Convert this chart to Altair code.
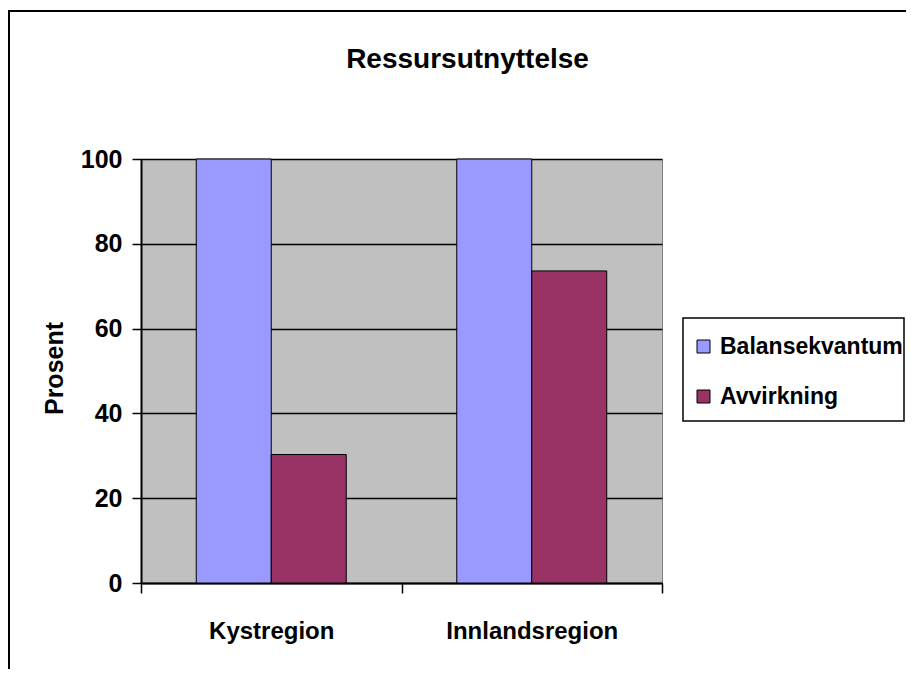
import altair as alt
import pandas as pd

categories = ["Kystregion", "Innlandsregion"]
series = ["Balansekvantum", "Avvirkning"]
balanse = [100, 100]
avvirkning = [30.3, 73.6]
y_ticks = [0, 20, 40, 60, 80, 100]
colors = ["#9999FF", "#993366"]

rows = []
for i, c in enumerate(categories):
    rows.append({"region": c, "serie": series[0], "prosent": balanse[i]})
    rows.append({"region": c, "serie": series[1], "prosent": avvirkning[i]})
df = pd.DataFrame(rows)

FONT = "Liberation Sans"

bars = alt.Chart(df).mark_bar(stroke="black", strokeWidth=1).encode(
    x=alt.X(
        "region:N", sort=categories,
        scale=alt.Scale(paddingInner=0, paddingOuter=0),
        axis=alt.Axis(
            title=None, labelAngle=0, tickBand="extent", ticks=True, tickSize=10,
            tickColor="black", tickWidth=1.5, domainColor="black", domainWidth=2,
            labelFontSize=24, labelFont=FONT, labelFontWeight="bold", labelColor="black",
            labelPadding=26, grid=False,
        ),
    ),
    xOffset=alt.XOffset("serie:N", sort=series,
                        scale=alt.Scale(paddingOuter=0.737, paddingInner=0)),
    y=alt.Y(
        "prosent:Q",
        scale=alt.Scale(domain=[0, 100], nice=False),
        axis=alt.Axis(
            values=y_ticks, title="Prosent", titleFont=FONT, titleFontSize=25,
            titleFontWeight="bold", titleColor="black", titleAngle=270,
            titleX=-79, titleY=209, titleAlign="center", titleBaseline="alphabetic",
            labelFont=FONT, labelFontSize=25, labelFontWeight="bold", labelColor="black",
            labelPadding=10, tickSize=9, tickColor="black", tickWidth=1.5,
            domainColor="black", domainWidth=2, gridColor="black", gridWidth=1.5,
            grid=True,
        ),
    ),
    color=alt.Color(
        "serie:N", sort=series,
        scale=alt.Scale(domain=series, range=colors),
        legend=alt.Legend(
            title=None, orient="none", legendX=542, legendY=167, direction="vertical",
            symbolType="square", symbolSize=169, symbolStrokeColor="black",
            symbolStrokeWidth=1, symbolOpacity=1, labelFont=FONT, labelFontSize=23,
            labelFontWeight="bold", labelColor="black", labelOffset=5, rowPadding=26,
            padding=9, labelLimit=400,
        ),
    ),
)

frame = alt.Chart(alt.Data(values=[{}])).mark_rect(
    fillOpacity=0, stroke="black", strokeWidth=2, clip=False
).encode(
    x=alt.value(-132), x2=alt.value(900), y=alt.value(-148), y2=alt.value(700)
)

legend_box = alt.Chart(alt.Data(values=[{}])).mark_rect(
    fill="white", stroke="black", strokeWidth=1.5, clip=False
).encode(
    x=alt.value(542), x2=alt.value(763), y=alt.value(159), y2=alt.value(262)
)

chart = alt.layer(frame, legend_box, bars).properties(
    width=521,
    height=424,
    title=alt.Title("Ressursutnyttelse", font=FONT, fontSize=28, fontWeight="bold",
                    color="black", dx=66, offset=-86, anchor="middle",
                    baseline="alphabetic"),
    autosize=alt.AutoSizeParams(type="none"),
    padding={"left": 133, "top": 151, "right": 244, "bottom": 86},
).configure_view(fill="#C0C0C0", stroke="#808080", strokeWidth=1)

chart.save("out.html", embed_options={"renderer": "svg", "actions": False})
